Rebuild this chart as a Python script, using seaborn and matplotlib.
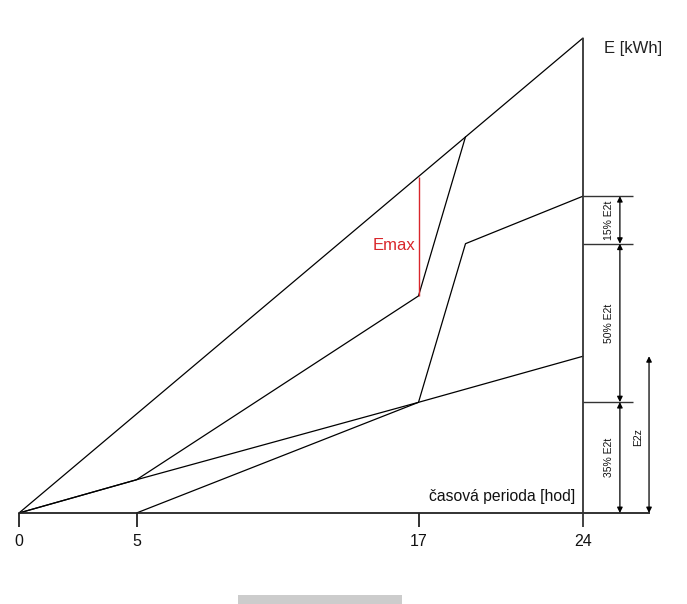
import numpy as np
import pandas as pd
import seaborn as sns
import matplotlib.pyplot as plt
from matplotlib.patches import Rectangle

sns.set_theme(style="white")
plt.rcParams['font.family'] = ['Liberation Sans', 'DejaVu Sans']

# hodiny a energie jednotlivych car (E v relativnich jednotkach, E(24) horni = 100)
hod_A = [0, 24]
E_A = [0, 100]
hod_B = [0, 5, 17, 19]
E_B = [0, 7, 45.7, 79.2]
hod_C = [0, 5, 17, 24]
E_C = [0, 7, 23.3, 33]
hod_D = [5, 17, 19, 24]
E_D = [0, 23.3, 56.7, 66.7]

tick_hod = [0, 5, 17, 24]
podily = [35, 50, 15]          # % E2t
E2t = 66.7
E2z = 33

df = pd.concat([
    pd.DataFrame({"hod": h, "E": e, "cara": n})
    for h, e, n in [(hod_A, E_A, "A"), (hod_B, E_B, "B"), (hod_C, E_C, "C"), (hod_D, E_D, "D")]
])

fig = plt.figure(figsize=(6.87, 6.04), dpi=100)
ax = fig.add_axes([0, 0, 1, 1])
# 1 hod = 23.5 px, 1 jednotka E = 4.75 px, pocatek na pixelu (19, 513)
ax.set_xlim(-19 / 23.5, 668 / 23.5)
ax.set_ylim(-91 / 4.75, 513 / 4.75)
ax.axis('off')

sns.lineplot(data=df, x="hod", y="E", units="cara", estimator=None, sort=False,
             color="black", lw=0.9, ax=ax, legend=False)

# Emax
E_diag17 = 17 / 24 * 100
ax.vlines(17, E_B[2], E_diag17, color="#d9262b", lw=1.0)
ax.text(16.85, 56.4, "Emax", color="#d9262b", fontsize=12,
        ha="right", va="center")

# osy
dole = -14 / 4.75
ax.hlines(0, 0, 26.85, color="#222222", lw=1.3)
ax.vlines(24, dole, 100, color="#333333", lw=1.3)
ax.vlines(tick_hod[:-1], dole, 0, color="#222222", lw=1.3)
for h in tick_hod:
    ax.text(h, -5.9, str(h), fontsize=11.5, ha="center", va="center", color="#111111")

ax.text(24.89, 97.7, "E [kWh]", fontsize=12, ha="left", va="center", color="#222222")
ax.text(23.66, 3.4, "časová perioda [hod]", fontsize=11.3, ha="right", va="center",
        color="#111111")

# rozdeleni E2t
hranice = np.concatenate([[0], np.cumsum(podily) / 100 * E2t])
ax.hlines(hranice[1:], 24, 26.13, color="#333333", lw=1.0)
for dolni, horni, p in zip(hranice[:-1], hranice[1:], podily):
    ax.annotate("", xy=(25.57, horni), xytext=(25.57, dolni),
                arrowprops=dict(arrowstyle="<|-|>", color="black", lw=0.9,
                                mutation_scale=8, shrinkA=0, shrinkB=0))
    ax.text(25.1, (dolni + horni) / 2, f"{p}% E2t", rotation=90, fontsize=7.5,
            ha="center", va="center", color="#111111")

ax.annotate("", xy=(26.81, E2z), xytext=(26.81, 0),
            arrowprops=dict(arrowstyle="<|-|>", color="black", lw=0.9,
                            mutation_scale=8, shrinkA=0, shrinkB=0))
ax.text(26.34, 16, "E2z", rotation=90, fontsize=7.5, ha="center", va="center", color="#111111")

# sedy pruh dole (artefakt snimku)
ax.add_patch(Rectangle((238 / 23.5 - 19 / 23.5, -91 / 4.75), 164 / 23.5, 9 / 4.75,
                       color="#cccccc", lw=0))

fig.savefig("out.png", dpi=100)
